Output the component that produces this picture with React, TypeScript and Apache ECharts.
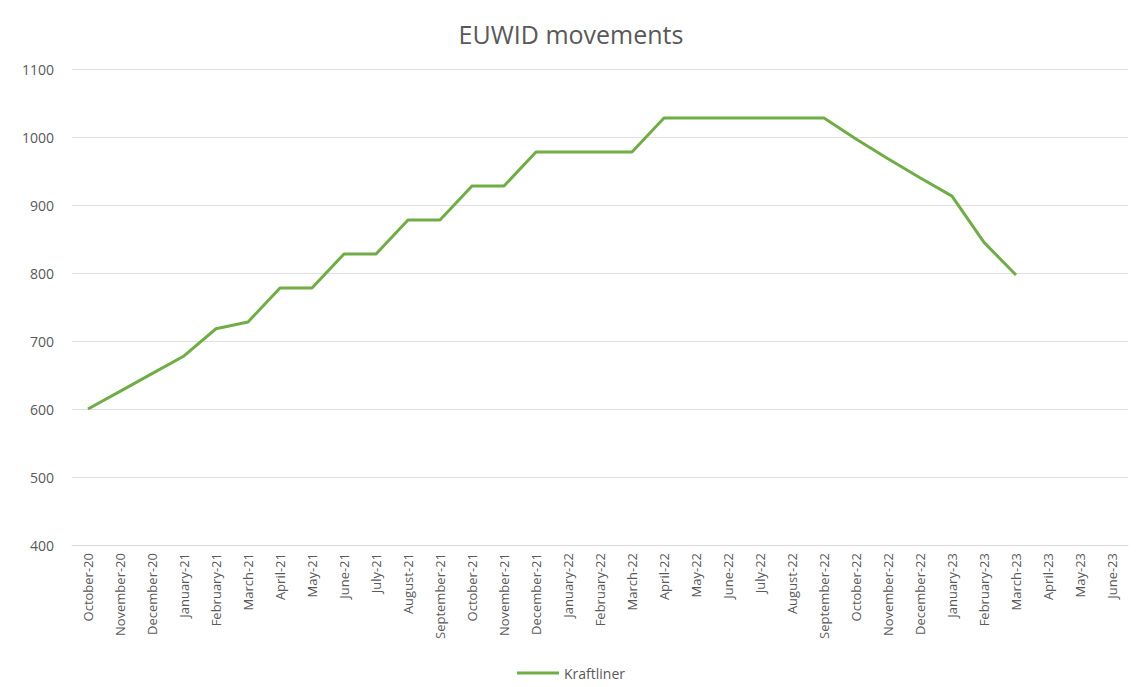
import React, { useEffect, useRef } from "react";
import * as echarts from "echarts";

const categories = [
  "October-20", "November-20", "December-20", "January-21", "February-21", "March-21",
  "April-21", "May-21", "June-21", "July-21", "August-21", "September-21",
  "October-21", "November-21", "December-21", "January-22", "February-22", "March-22",
  "April-22", "May-22", "June-22", "July-22", "August-22", "September-22",
  "October-22", "November-22", "December-22", "January-23", "February-23", "March-23",
  "April-23", "May-23", "June-23",
];

const kraftliner: (number | null)[] = [
  600, 626, 652, 678, 718, 728,
  778, 778, 828, 828, 878, 878,
  928, 928, 978, 978, 978, 978,
  1028, 1028, 1028, 1028, 1028, 1028,
  997, 968, 940, 913, 845, 797,
  null, null, null,
];

const seriesName = "Kraftliner";
const title = "EUWID movements";

export default function App() {
  const ref = useRef<HTMLDivElement>(null);
  useEffect(() => {
    if (!ref.current) return;
    const chart = echarts.init(ref.current, undefined, { renderer: "svg" });
    const font = "'Open Sans', Lato, sans-serif";
    chart.setOption({
      animation: false,
      backgroundColor: "#ffffff",
      title: {
        text: title,
        left: "center",
        top: 16,
        textStyle: { color: "#595959", fontSize: 25, fontWeight: "normal", fontFamily: font },
      },
      legend: {
        bottom: 2,
        left: "center",
        itemWidth: 42,
        itemHeight: 10,
        itemGap: 6,
        icon: "path://M0,3.5 L42,3.5 L42,6.5 L0,6.5 Z",
        textStyle: { color: "#595959", fontSize: 14, fontFamily: font },
        data: [seriesName],
      },
      grid: { left: 72, right: 14, top: 69, bottom: 142, containLabel: false },
      xAxis: {
        type: "category",
        data: categories,
        boundaryGap: true,
        axisLine: { show: true, lineStyle: { color: "#d9d9d9" } },
        axisTick: { show: false },
        axisLabel: {
          rotate: 90,
          interval: 0,
          margin: 8,
          color: "#595959",
          fontSize: 13,
          fontFamily: font,
        },
      },
      yAxis: {
        type: "value",
        min: 400,
        max: 1100,
        interval: 100,
        axisLine: { show: false },
        axisTick: { show: false },
        axisLabel: {
          color: "#595959",
          fontSize: 14,
          margin: 18,
          fontFamily: font,
          formatter: (v: number) => String(v),
        },
        splitLine: { lineStyle: { color: "#e0e0e0", width: 1 } },
      },
      series: [
        {
          name: seriesName,
          type: "line",
          data: kraftliner,
          showSymbol: false,
          symbol: "none",
          lineStyle: { color: "#70ad47", width: 3 },
          itemStyle: { color: "#70ad47" },
        },
      ],
    });
    return () => chart.dispose();
  }, []);
  return (
    <div
      ref={ref}
      style={{ position: "fixed", left: 0, top: 0, width: 1142, height: 687 }}
    />
  );
}
